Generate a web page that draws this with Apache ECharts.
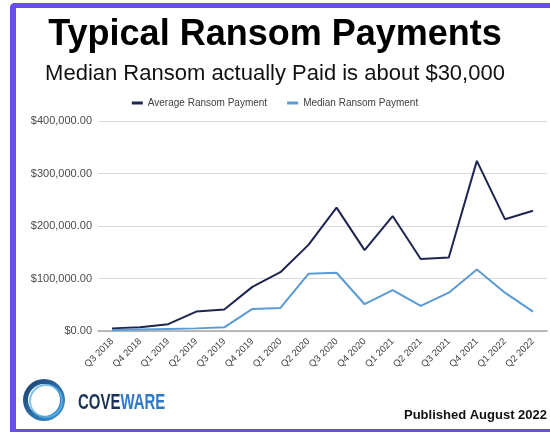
<!DOCTYPE html>
<html>
<head>
<meta charset="utf-8">
<script src="https://cdn.jsdelivr.net/npm/echarts@6/dist/echarts.min.js"></script>
<style>
html,body{margin:0;padding:0;background:#fff;}
#chart{width:550px;height:433px;}
</style>
</head>
<body>
<div id="chart"></div>
<script>
const categories = ['Q3 2018','Q4 2018','Q1 2019','Q2 2019','Q3 2019','Q4 2019','Q1 2020','Q2 2020','Q3 2020','Q4 2020','Q1 2021','Q2 2021','Q3 2021','Q4 2021','Q1 2022','Q2 2022'];
const averagePayment = [5000, 7000, 13000, 37000, 41000, 84000, 112000, 164000, 235000, 154000, 219000, 137000, 140000, 324000, 213000, 229000];
const medianPayment = [2000, 3000, 4000, 5000, 7000, 42000, 44000, 109000, 111000, 51000, 78000, 48000, 73000, 117000, 73000, 37000];
const yTicks = [0, 100000, 200000, 300000, 400000];

const chart = echarts.init(document.getElementById('chart'), null, {renderer: 'canvas'});
const fmt = v => '$' + v.toLocaleString('en-US', {minimumFractionDigits: 2, maximumFractionDigits: 2});

const option = {
  backgroundColor: '#ffffff',
  animation: false,
  title: [
    {text: 'Typical Ransom Payments', left: 'center', top: 12,
     textStyle: {fontFamily: 'Liberation Sans, Arial, sans-serif', fontSize: 36, fontWeight: 'bold', color: '#000'}},
    {text: 'Median Ransom actually Paid is about $30,000', left: 'center', top: 58,
     textStyle: {fontFamily: 'Liberation Sans, Arial, sans-serif', fontSize: 22, fontWeight: 'normal', color: '#111'}}
  ],
  legend: {
    top: 93, left: 'center', itemWidth: 11, itemHeight: 3, itemGap: 20,
    icon: 'rect',
    textStyle: {fontFamily: 'Liberation Sans, Arial, sans-serif', fontSize: 10, color: '#404040'},
    data: ['Average Ransom Payment', 'Median Ransom Payment']
  },
  grid: {left: 98, right: 3, top: 121, bottom: 102, containLabel: false},
  xAxis: {
    type: 'category', data: categories, boundaryGap: true,
    axisLine: {show: true, lineStyle: {color: '#a6a6a6', width: 1.5}},
    axisTick: {show: false},
    axisLabel: {rotate: 45, interval: 0, fontSize: 9.5, color: '#404040', margin: 9,
                fontFamily: 'Liberation Sans, Arial, sans-serif'}
  },
  yAxis: {
    type: 'value', min: 0, max: 400000, interval: 100000,
    axisLine: {show: false}, axisTick: {show: false},
    splitLine: {lineStyle: {color: '#d9d9d9', width: 1}},
    axisLabel: {formatter: fmt, fontSize: 11, color: '#4a4a4a', margin: 6,
                fontFamily: 'Liberation Sans, Arial, sans-serif'}
  },
  series: [
    {name: 'Average Ransom Payment', type: 'line', data: averagePayment, symbol: 'none',
     lineStyle: {color: '#1d2550', width: 2}, itemStyle: {color: '#1d2550'}},
    {name: 'Median Ransom Payment', type: 'line', data: medianPayment, symbol: 'none',
     lineStyle: {color: '#5b9bd5', width: 2}, itemStyle: {color: '#5b9bd5'}}
  ],
  graphic: [
    {type: 'rect', shape: {x: 10, y: 3, width: 560, height: 5, r: [5, 0, 0, 0]}, style: {fill: '#6a4cf5'}, silent: true},
    {type: 'rect', shape: {x: 10, y: 3, width: 6, height: 429, r: [5, 0, 0, 0]}, style: {fill: '#6a4cf5'}, silent: true},
    {type: 'rect', shape: {x: 10, y: 429, width: 560, height: 3}, style: {fill: '#6a4cf5'}, silent: true},
    {type: 'ring', shape: {cx: 44, cy: 400, r: 21, r0: 16},
     style: {fill: new echarts.graphic.LinearGradient(0, 0, 1, 1, [{offset: 0, color: '#1a3c6e'}, {offset: 1, color: '#3d9ad8'}])}, silent: true},
    {type: 'ring', shape: {cx: 46, cy: 401, r: 17, r0: 15},
     style: {fill: '#5fb4e6', opacity: 0.8}, silent: true},
    {type: 'text', x: 78, y: 392, scaleX: 0.68, scaleY: 1,
     style: {text: '{a|COVE}{b|WARE}', rich: {
       a: {fontFamily: 'Liberation Sans Narrow, Liberation Sans, Arial, sans-serif', fontSize: 22, fontWeight: 'bold', fill: '#1c3157'},
       b: {fontFamily: 'Liberation Sans Narrow, Liberation Sans, Arial, sans-serif', fontSize: 22, fontWeight: 'bold', fill: '#3178c6'}}},
     silent: true},
    {type: 'text', right: 3, top: 409,
     style: {text: 'Published August 2022', fontFamily: 'Liberation Sans, Arial, sans-serif', fontSize: 13, fontWeight: 'bold', fill: '#111'},
     silent: true}
  ]
};
chart.setOption(option);
</script>
</body>
</html>
